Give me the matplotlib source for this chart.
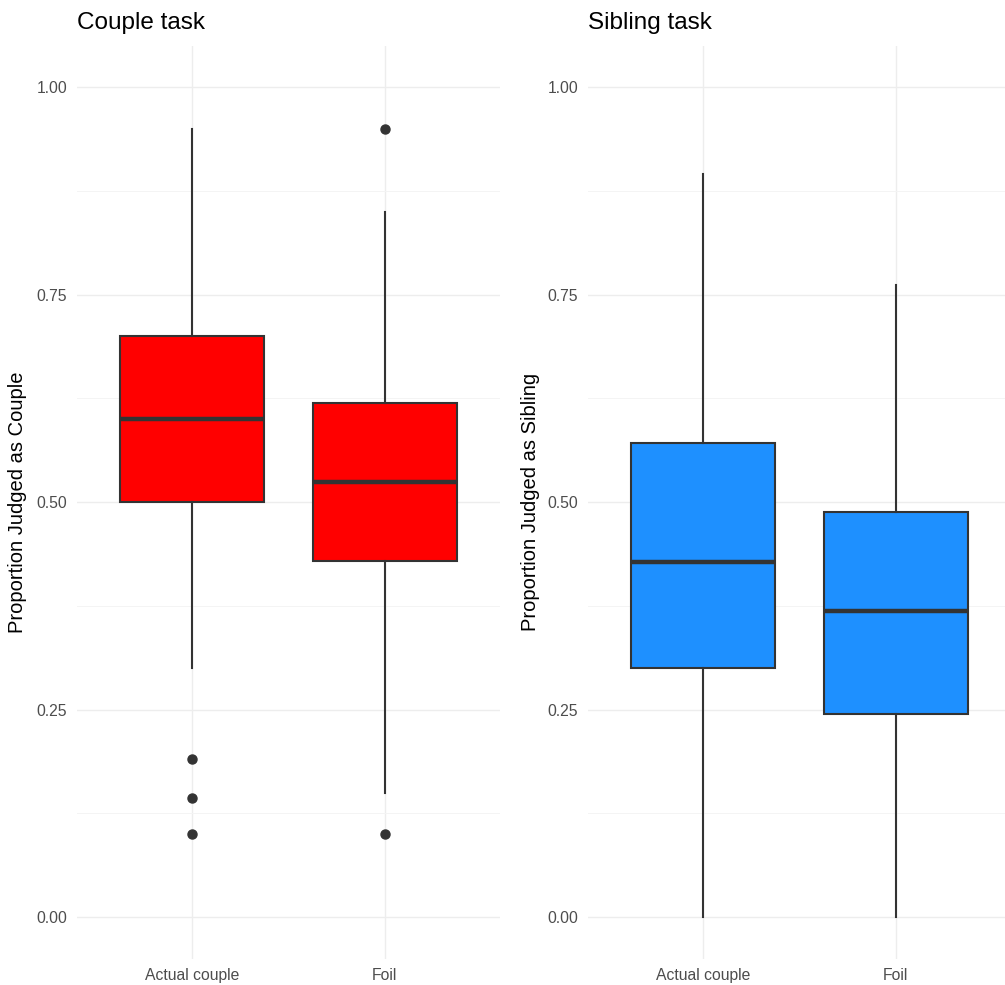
import matplotlib
matplotlib.use("Agg")
import matplotlib.pyplot as plt

plt.rcParams["font.family"] = ["Liberation Sans", "DejaVu Sans"]

categories = ["Actual couple", "Foil"]

# box summaries per task: q1, median, q3, lower whisker, upper whisker
couple_q1 = [0.50, 0.429]
couple_med = [0.60, 0.524]
couple_q3 = [0.70, 0.619]
couple_lo = [0.30, 0.15]
couple_hi = [0.95, 0.85]
couple_fliers = [[0.19, 0.143, 0.10], [0.95, 0.10]]

sibling_q1 = [0.30, 0.245]
sibling_med = [0.428, 0.369]
sibling_q3 = [0.571, 0.488]
sibling_lo = [0.0, 0.0]
sibling_hi = [0.895, 0.762]
sibling_fliers = [[], []]

y_ticks = [0.0, 0.25, 0.50, 0.75, 1.00]
y_minor = [0.125, 0.375, 0.625, 0.875]

W, H = 1005, 985
EDGE = "#333333"


def draw_panel(ax, q1, med, q3, lo, hi, fliers, color, title, ylabel, label_x):
    stats = []
    for i, name in enumerate(categories):
        stats.append({
            "label": name, "q1": q1[i], "med": med[i], "q3": q3[i],
            "whislo": lo[i], "whishi": hi[i], "fliers": fliers[i],
        })
    ax.bxp(
        stats, positions=[1, 2], widths=0.75, patch_artist=True,
        showcaps=False,
        boxprops=dict(facecolor=color, edgecolor=EDGE, linewidth=1.5),
        medianprops=dict(color=EDGE, linewidth=3.2, solid_capstyle="butt"),
        whiskerprops=dict(color=EDGE, linewidth=1.5),
        flierprops=dict(marker="o", markersize=6.5, markerfacecolor=EDGE,
                        markeredgecolor=EDGE, linestyle="none"),
        zorder=3,
    )
    ax.set_xlim(0.4, 2.6)
    ax.set_ylim(-0.05, 1.05)
    ax.set_xticks([1, 2])
    ax.set_xticklabels(categories)
    ax.set_yticks(y_ticks)
    ax.set_yticklabels([f"{v:.2f}" for v in y_ticks])
    ax.set_yticks(y_minor, minor=True)
    ax.grid(True, which="major", color="#EDEDED", linewidth=1.0, zorder=0)
    ax.grid(True, which="minor", axis="y", color="#F4F4F4", linewidth=0.7, zorder=0)
    ax.set_axisbelow(True)
    for sp in ax.spines.values():
        sp.set_visible(False)
    ax.tick_params(axis="both", which="both", length=0, labelsize=11.3,
                   labelcolor="#4D4D4D")
    ax.tick_params(axis="y", pad=7)
    ax.tick_params(axis="x", pad=6.5)
    ax.set_ylabel(ylabel, fontsize=14.5, color="black")
    ax.yaxis.set_label_coords(label_x, 0.5)
    pos = ax.get_position()
    ax.figure.text(pos.x0, 1 - 29 / H, title, fontsize=17.5,
                   ha="left", va="baseline", color="black")


fig = plt.figure(figsize=(W / 100, H / 100), dpi=100)
bottom = 1 - 958.5 / H
height = (958.5 - 45.5) / H
width = 423 / W

ax1 = fig.add_axes([77 / W, bottom, width, height])
ax2 = fig.add_axes([588 / W, bottom, width, height])

draw_panel(ax1, couple_q1, couple_med, couple_q3, couple_lo, couple_hi,
           couple_fliers, "#FF0000", "Couple task",
           "Proportion Judged as Couple", -0.118)
draw_panel(ax2, sibling_q1, sibling_med, sibling_q3, sibling_lo, sibling_hi,
           sibling_fliers, "#1E90FF", "Sibling task",
           "Proportion Judged as Sibling", -0.114)

fig.savefig("out.png", dpi=100)
